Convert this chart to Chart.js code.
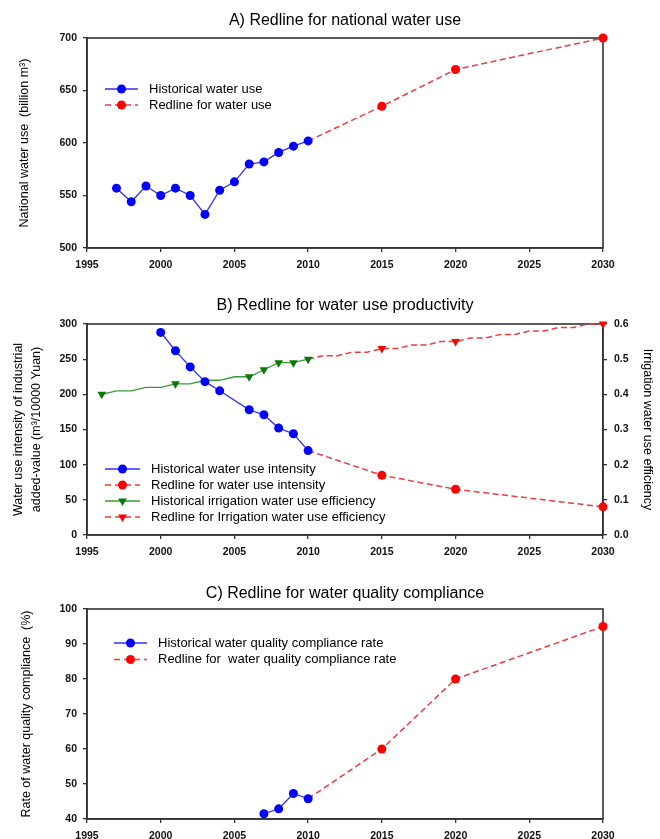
<!DOCTYPE html>
<html>
<head>
    <meta charset="utf-8">
    <title>Water redlines</title>
    <script src="https://cdn.jsdelivr.net/npm/chart.js@4.4.1/dist/chart.umd.min.js"></script>
    <style>
        html, body { margin: 0; padding: 0; background: #fff; overflow: hidden; }
        .panel { position: absolute; left: 0; width: 660px; }
        canvas { display: block; }
    </style>
</head>
<body>
    <div class="panel" style="top:0px"><canvas id="chartA" width="660" height="272"></canvas></div>
    <div class="panel" style="top:280px"><canvas id="chartB" width="660" height="279"></canvas></div>
    <div class="panel" style="top:570px"><canvas id="chartC" width="660" height="269"></canvas></div>

    <script>
        const FONT = '"Liberation Sans", Arial, sans-serif';

        // A) national water use (billion m3)
        const useYears = [1997, 1998, 1999, 2000, 2001, 2002, 2003, 2004, 2005, 2006, 2007, 2008, 2009, 2010];
        const useValues = [557, 544, 559, 550, 557, 550, 532, 555, 563, 580, 582, 591, 597, 602];
        const useRedYears = [2010, 2015, 2020, 2030];
        const useRedValues = [602, 635, 670, 700];

        // B) water use intensity (m3/10000 Yuan) and irrigation efficiency
        const intYears = [2000, 2001, 2002, 2003, 2004, 2006, 2007, 2008, 2009, 2010];
        const intValues = [288, 262, 239, 218, 205, 178, 171, 152, 144, 120];
        const intRedYears = [2010, 2015, 2020, 2030];
        const intRedValues = [120, 85, 65, 40];
        const irrYears = [1996, 1997, 1998, 1999, 2000, 2001, 2002, 2003, 2004, 2005, 2006, 2007, 2008, 2009, 2010];
        const irrValues = [0.40, 0.41, 0.41, 0.42, 0.42, 0.43, 0.43, 0.44, 0.44, 0.45, 0.45, 0.47, 0.49, 0.49, 0.50];
        const irrMarkerYears = [1996, 2001, 2006, 2007, 2008, 2009, 2010];
        const irrRedYears = [2010, 2011, 2012, 2013, 2014, 2015, 2016, 2017, 2018, 2019, 2020,
                             2021, 2022, 2023, 2024, 2025, 2026, 2027, 2028, 2029, 2030];
        const irrRedValues = [0.50, 0.51, 0.51, 0.52, 0.52, 0.53, 0.53, 0.54, 0.54, 0.55, 0.55,
                              0.56, 0.56, 0.57, 0.57, 0.58, 0.58, 0.59, 0.59, 0.60, 0.60];
        const redMarkerYears = [2015, 2020, 2030];

        // C) water quality compliance rate (%)
        const qualYears = [2007, 2008, 2009, 2010];
        const qualValues = [41.5, 42.9, 47.3, 45.8];
        const qualRedYears = [2010, 2015, 2020, 2030];
        const qualRedValues = [45.8, 60, 80, 95];

        const BLUE = '#0000ff', BLUE_LINE = '#3030f5';
        const RED = '#ff0000', RED_LINE = '#f03c3c';
        const GREEN = '#0a780a', GREEN_LINE = '#3a9a3a';
        const AXIS = '#333';

        function pts(xs, ys) {
            return xs.map((x, i) => ({ x: x, y: ys[i] }));
        }

        function markerAt(years, r) {
            return ctx => (ctx.raw && years.includes(ctx.raw.x)) ? r : 0;
        }

        function drawMarker(ctx, style, x, y) {
            ctx.beginPath();
            if (style === 'triangle') {
                ctx.moveTo(x, y + 5);
                ctx.lineTo(x - 4.4, y - 2.5);
                ctx.lineTo(x + 4.4, y - 2.5);
                ctx.closePath();
            } else {
                ctx.arc(x, y, 4.5, 0, Math.PI * 2);
            }
            ctx.fill();
        }

        // box around the plot + legend drawn inside the plot
        const frameLegend = {
            id: 'frameLegend',
            beforeDatasetsDraw(chart) {
                const { ctx, chartArea: a } = chart;
                ctx.save();
                ctx.strokeStyle = AXIS;
                ctx.lineWidth = 1.6;
                ctx.strokeRect(Math.round(a.left), Math.round(a.top),
                               Math.round(a.right - a.left), Math.round(a.bottom - a.top));
                ctx.restore();
            },
            afterDatasetsDraw(chart, args, o) {
                const ctx = chart.ctx;
                ctx.save();
                chart.data.datasets.forEach((ds, i) => {
                    const y = o.y + i * o.gap;
                    ctx.strokeStyle = ds.borderColor;
                    ctx.lineWidth = ds.borderWidth;
                    ctx.setLineDash(ds.borderDash ? [6, 4] : []);
                    ctx.beginPath();
                    ctx.moveTo(o.x, y);
                    ctx.lineTo(o.x + o.len, y);
                    ctx.stroke();
                    ctx.setLineDash([]);
                    ctx.fillStyle = ds.pointBackgroundColor;
                    drawMarker(ctx, ds.pointStyle, o.x + o.len / 2, y);
                    ctx.fillStyle = '#000';
                    ctx.font = '13px ' + FONT;
                    ctx.textAlign = 'left';
                    ctx.textBaseline = 'middle';
                    ctx.fillText(ds.label, o.x + o.len + 11, y);
                });
                ctx.restore();
            }
        };

        function xScale(h) {
            return {
                type: 'linear', min: 1995, max: 2030,
                ticks: { stepSize: 5, color: '#111', font: { size: 10.5, family: FONT, weight: 'bold' }, padding: 7,
                         maxRotation: 0, autoSkip: false, callback: v => String(v) },
                grid: { drawOnChartArea: false, drawTicks: true, tickLength: 4, color: AXIS, lineWidth: 1.3 },
                border: { display: true, color: AXIS, width: 1.6 },
                afterFit: s => { s.height = h; }
            };
        }

        function yScale(min, max, step, position, title, pad, width, lineHeight, decimals) {
            return {
                type: 'linear', position: position, min: min, max: max,
                ticks: { stepSize: step, color: '#111', font: { size: 10.5, family: FONT, weight: 'bold' },
                         padding: position === 'left' ? 6 : 7,
                         callback: v => decimals ? v.toFixed(decimals) : String(v) },
                grid: { drawOnChartArea: false, drawTicks: true, tickLength: 4, color: AXIS, lineWidth: 1.3 },
                border: { display: true, color: AXIS, width: 1.6 },
                title: { display: true, text: title, color: '#000',
                         font: { size: 12.5, family: FONT, lineHeight: lineHeight },
                         padding: { top: pad, bottom: 0 } },
                afterFit: s => { s.width = width; }
            };
        }

        function titleOpts(text, top, bottom) {
            return {
                display: true, text: text, fullSize: false, color: '#000',
                font: { size: 16, family: FONT, weight: 'normal' },
                padding: { top: top, bottom: bottom }
            };
        }

        function lineSet(label, data, color, lineColor, dashed, style, radius) {
            return {
                label: label, data: data,
                borderColor: lineColor, borderWidth: dashed ? 1.5 : 1.3, borderDash: dashed ? [6, 3.5] : undefined,
                pointBackgroundColor: color, pointBorderWidth: 0,
                pointStyle: style, pointRotation: style === 'triangle' ? 180 : 0,
                pointRadius: radius, tension: 0, clip: false
            };
        }

        const common = {
            responsive: false,
            animation: false,
            events: [],
            devicePixelRatio: 1
        };

        new Chart(document.getElementById('chartA'), {
            type: 'line',
            data: {
                datasets: [
                    lineSet('Historical water use', pts(useYears, useValues), BLUE, BLUE_LINE, false, 'circle', 4.5),
                    lineSet('Redline for water use', pts(useRedYears, useRedValues), RED, RED_LINE, true, 'circle',
                            markerAt(redMarkerYears, 4.5))
                ]
            },
            options: Object.assign({}, common, {
                layout: { padding: { left: 0, right: 57, top: 0, bottom: 0 } },
                plugins: {
                    legend: { display: false },
                    title: titleOpts('A) Redline for national water use', 11.1, 7.7),
                    frameLegend: { x: 105, y: 89, gap: 16, len: 33 }
                },
                scales: {
                    x: xScale(24),
                    y: yScale(500, 700, 50, 'left', 'National water use  (billion m³)', 17.5, 87, 1.2)
                }
            }),
            plugins: [frameLegend]
        });

        new Chart(document.getElementById('chartB'), {
            type: 'line',
            data: {
                datasets: [
                    lineSet('Historical water use intensity', pts(intYears, intValues), BLUE, BLUE_LINE, false, 'circle', 4.5),
                    lineSet('Redline for water use intensity', pts(intRedYears, intRedValues), RED, RED_LINE, true, 'circle',
                            markerAt(redMarkerYears, 4.5)),
                    Object.assign(lineSet('Historical irrigation water use efficiency', pts(irrYears, irrValues), GREEN, GREEN_LINE,
                            false, 'triangle', markerAt(irrMarkerYears, 5)), { yAxisID: 'y2' }),
                    Object.assign(lineSet('Redline for Irrigation water use efficiency', pts(irrRedYears, irrRedValues), RED, RED_LINE,
                            true, 'triangle', markerAt(redMarkerYears, 5)), { yAxisID: 'y2' })
                ]
            },
            options: Object.assign({}, common, {
                layout: { padding: 0 },
                plugins: {
                    legend: { display: false },
                    title: titleOpts('B) Redline for water use productivity', 16.4, 8.4),
                    frameLegend: { x: 105, y: 189, gap: 16, len: 35 }
                },
                scales: {
                    x: xScale(24),
                    y: yScale(0, 300, 50, 'left', ['Water use intensity of industrial', 'added-value (m³/10000 Yuan)'], 10, 87, 1.44),
                    y2: yScale(0, 0.6, 0.1, 'right', 'Irrigation water use efficiency', 5.5, 57, 1.2, 1)
                }
            }),
            plugins: [frameLegend]
        });

        new Chart(document.getElementById('chartC'), {
            type: 'line',
            data: {
                datasets: [
                    lineSet('Historical water quality compliance rate', pts(qualYears, qualValues), BLUE, BLUE_LINE, false, 'circle', 4.5),
                    lineSet('Redline for  water quality compliance rate', pts(qualRedYears, qualRedValues), RED, RED_LINE, true, 'circle',
                            markerAt(redMarkerYears, 4.5))
                ]
            },
            options: Object.assign({}, common, {
                layout: { padding: { left: 0, right: 57, top: 0, bottom: 0 } },
                plugins: {
                    legend: { display: false },
                    title: titleOpts('C) Redline for water quality compliance', 13.7, 6.1),
                    frameLegend: { x: 114, y: 73, gap: 16.5, len: 33 }
                },
                scales: {
                    x: xScale(20),
                    y: yScale(40, 100, 10, 'left', 'Rate of water quality compliance  (%)', 19.5, 87, 1.2)
                }
            }),
            plugins: [frameLegend]
        });
    </script>
</body>
</html>
